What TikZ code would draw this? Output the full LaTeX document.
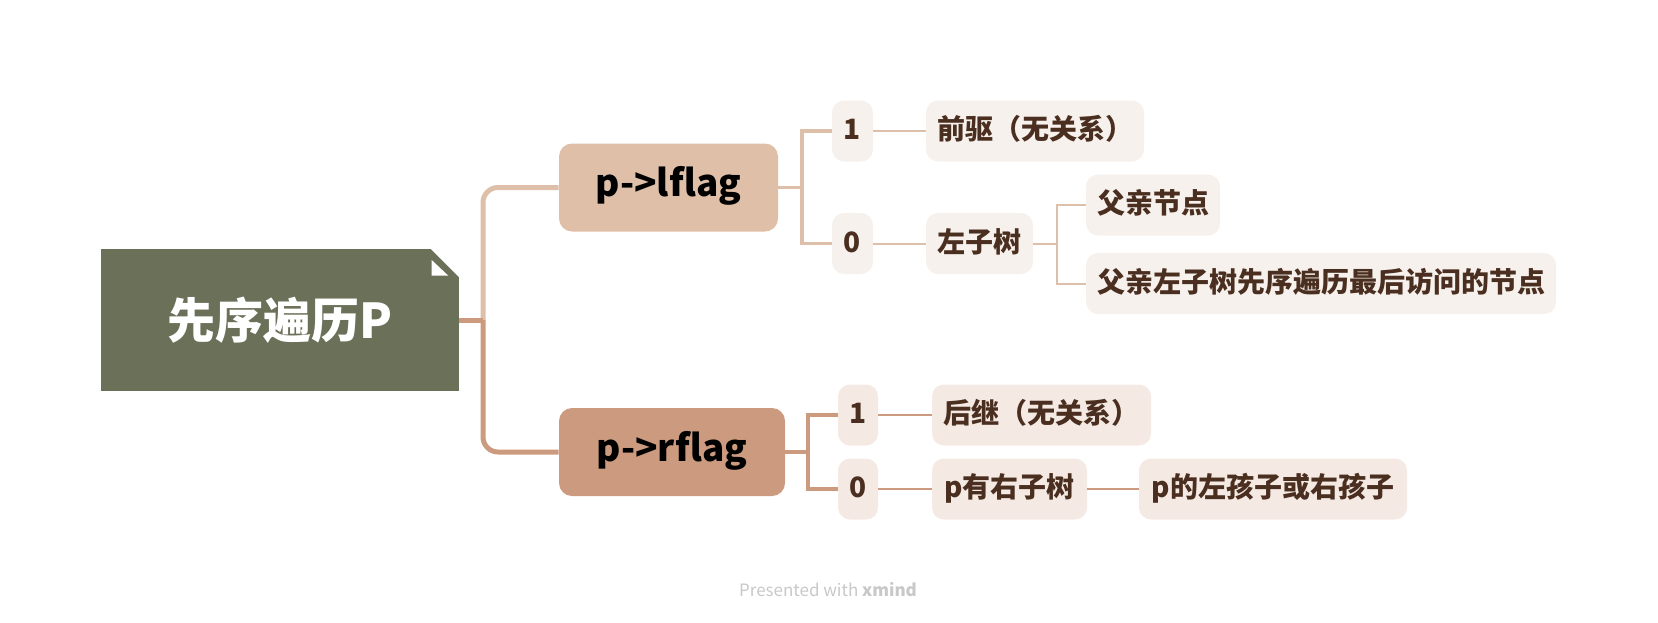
\documentclass[tikz,border=0pt]{standalone}
\usepackage{fontspec}
\setmainfont{Noto Sans CJK SC}
\usetikzlibrary{positioning}

\definecolor{rootfill}{HTML}{6B7059}
\definecolor{lflagfill}{HTML}{DFBFA8}
\definecolor{rflagfill}{HTML}{CC9A7E}
\definecolor{lleaffill}{HTML}{F6F1EC}
\definecolor{rleaffill}{HTML}{F4EAE3}
\definecolor{leaftext}{HTML}{4A2E1F}
\definecolor{lline}{HTML}{DEC0AA}
\definecolor{rline}{HTML}{CC9A7E}
\definecolor{footgray}{HTML}{C8C8C8}

\begin{document}
\begin{tikzpicture}[x=0.5pt,y=-0.5pt,
  topic/.style={minimum width=179pt,minimum height=71pt,inner sep=0pt,
                fill=rootfill,text=white,font=\fontsize{24}{28}\selectfont\bfseries},
  flagbox/.style={rounded corners=6.5pt,minimum height=44pt,inner sep=0pt,
                  text height=13pt,text depth=4pt,
                  font=\fontsize{18.5}{22}\selectfont\bfseries,text=black},
  leaf/.style={rounded corners=6pt,minimum height=30.5pt,inner sep=0pt,
               text height=11pt,text depth=2.5pt,
               font=\fontsize{14}{17}\selectfont\bfseries,text=leaftext},
  trunk/.style={line width=2.5pt},
  twig/.style={line width=1.75pt},
  link/.style={line width=1pt},
]
  \useasboundingbox (0,0) rectangle (1658,622);

  % Central topic with folded corner
  \node[topic] (root) at (280,320) {先序遍历P};
  \fill[white] (430,248) -- (460,248) -- (460,278) -- cycle;
  \fill[white] (431.7,260) -- (431.7,275.7) -- (448.3,275.7) -- cycle;

  % Flag branches
  \node[flagbox,fill=lflagfill,minimum width=109.5pt] (lflag) at (668.5,187.5) {p->lflag};
  \node[flagbox,fill=rflagfill,minimum width=113pt]   (rflag) at (672,452)     {p->rflag};

  % Left flag values
  \node[leaf,fill=lleaffill,minimum width=20.5pt] (l1)    at (852.5,131)   {1};
  \node[leaf,fill=lleaffill,minimum width=20.5pt] (l0)    at (852.5,243.5) {0};
  \node[leaf,fill=lleaffill,minimum width=109pt]  (lpre)  at (1035,131)    {前驱（无关系）};
  \node[leaf,fill=lleaffill,minimum width=53.5pt] (lsub)  at (979.5,243.5) {左子树};
  \node[leaf,fill=lleaffill,minimum width=67pt]   (lpar)  at (1153,205)    {父亲节点};
  \node[leaf,fill=lleaffill,minimum width=235pt]  (llast) at (1321,283.5)  {父亲左子树先序遍历最后访问的节点};

  % Right flag values
  \node[leaf,fill=rleaffill,minimum width=20pt]    (r1)     at (858,415)    {1};
  \node[leaf,fill=rleaffill,minimum width=20pt]    (r0)     at (858,489)    {0};
  \node[leaf,fill=rleaffill,minimum width=109.5pt] (rsuc)   at (1041.5,415) {后继（无关系）};
  \node[leaf,fill=rleaffill,minimum width=77.5pt]  (rsub)   at (1009.5,489) {p有右子树};
  \node[leaf,fill=rleaffill,minimum width=134pt]   (rchild) at (1273,489)   {p的左孩子或右孩子};

  % Junction points
  \coordinate (hub)  at (483,320);
  \coordinate (lhub) at (802,187.5);
  \coordinate (rhub) at (808,452);
  \coordinate (shub) at (1057,243.5);

  % Trunk from the central topic
  \draw[trunk,lline,rounded corners=7.5pt] (hub) |- (lflag.west);
  \draw[trunk,rline,rounded corners=7.5pt] (hub) |- (rflag.west);
  \draw[trunk,rline] (root.east) -- (hub);

  % Flag to values
  \draw[twig,lline] (lflag.east) -- (lhub);
  \draw[twig,lline] (l1.west) -| (lhub) |- (l0.west);
  \draw[twig,rline] (rflag.east) -- (rhub);
  \draw[twig,rline] (r1.west) -| (rhub) |- (r0.west);

  % Values to meanings
  \draw[link,lline] (l1) -- (lpre);
  \draw[link,lline] (l0) -- (lsub);
  \draw[link,lline] (lsub.east) -- (shub);
  \draw[link,lline] (lpar.west) -| (shub) |- (llast.west);
  \draw[link,rline] (r1) -- (rsuc);
  \draw[link,rline] (r0) -- (rsub);
  \draw[link,rline] (rsub) -- (rchild);

  % Footer
  \node[font=\fontsize{8.5}{10}\selectfont,text=footgray] (footer) at (828,590)
    {Presented with \textbf{xmind}};
\end{tikzpicture}
\end{document}
